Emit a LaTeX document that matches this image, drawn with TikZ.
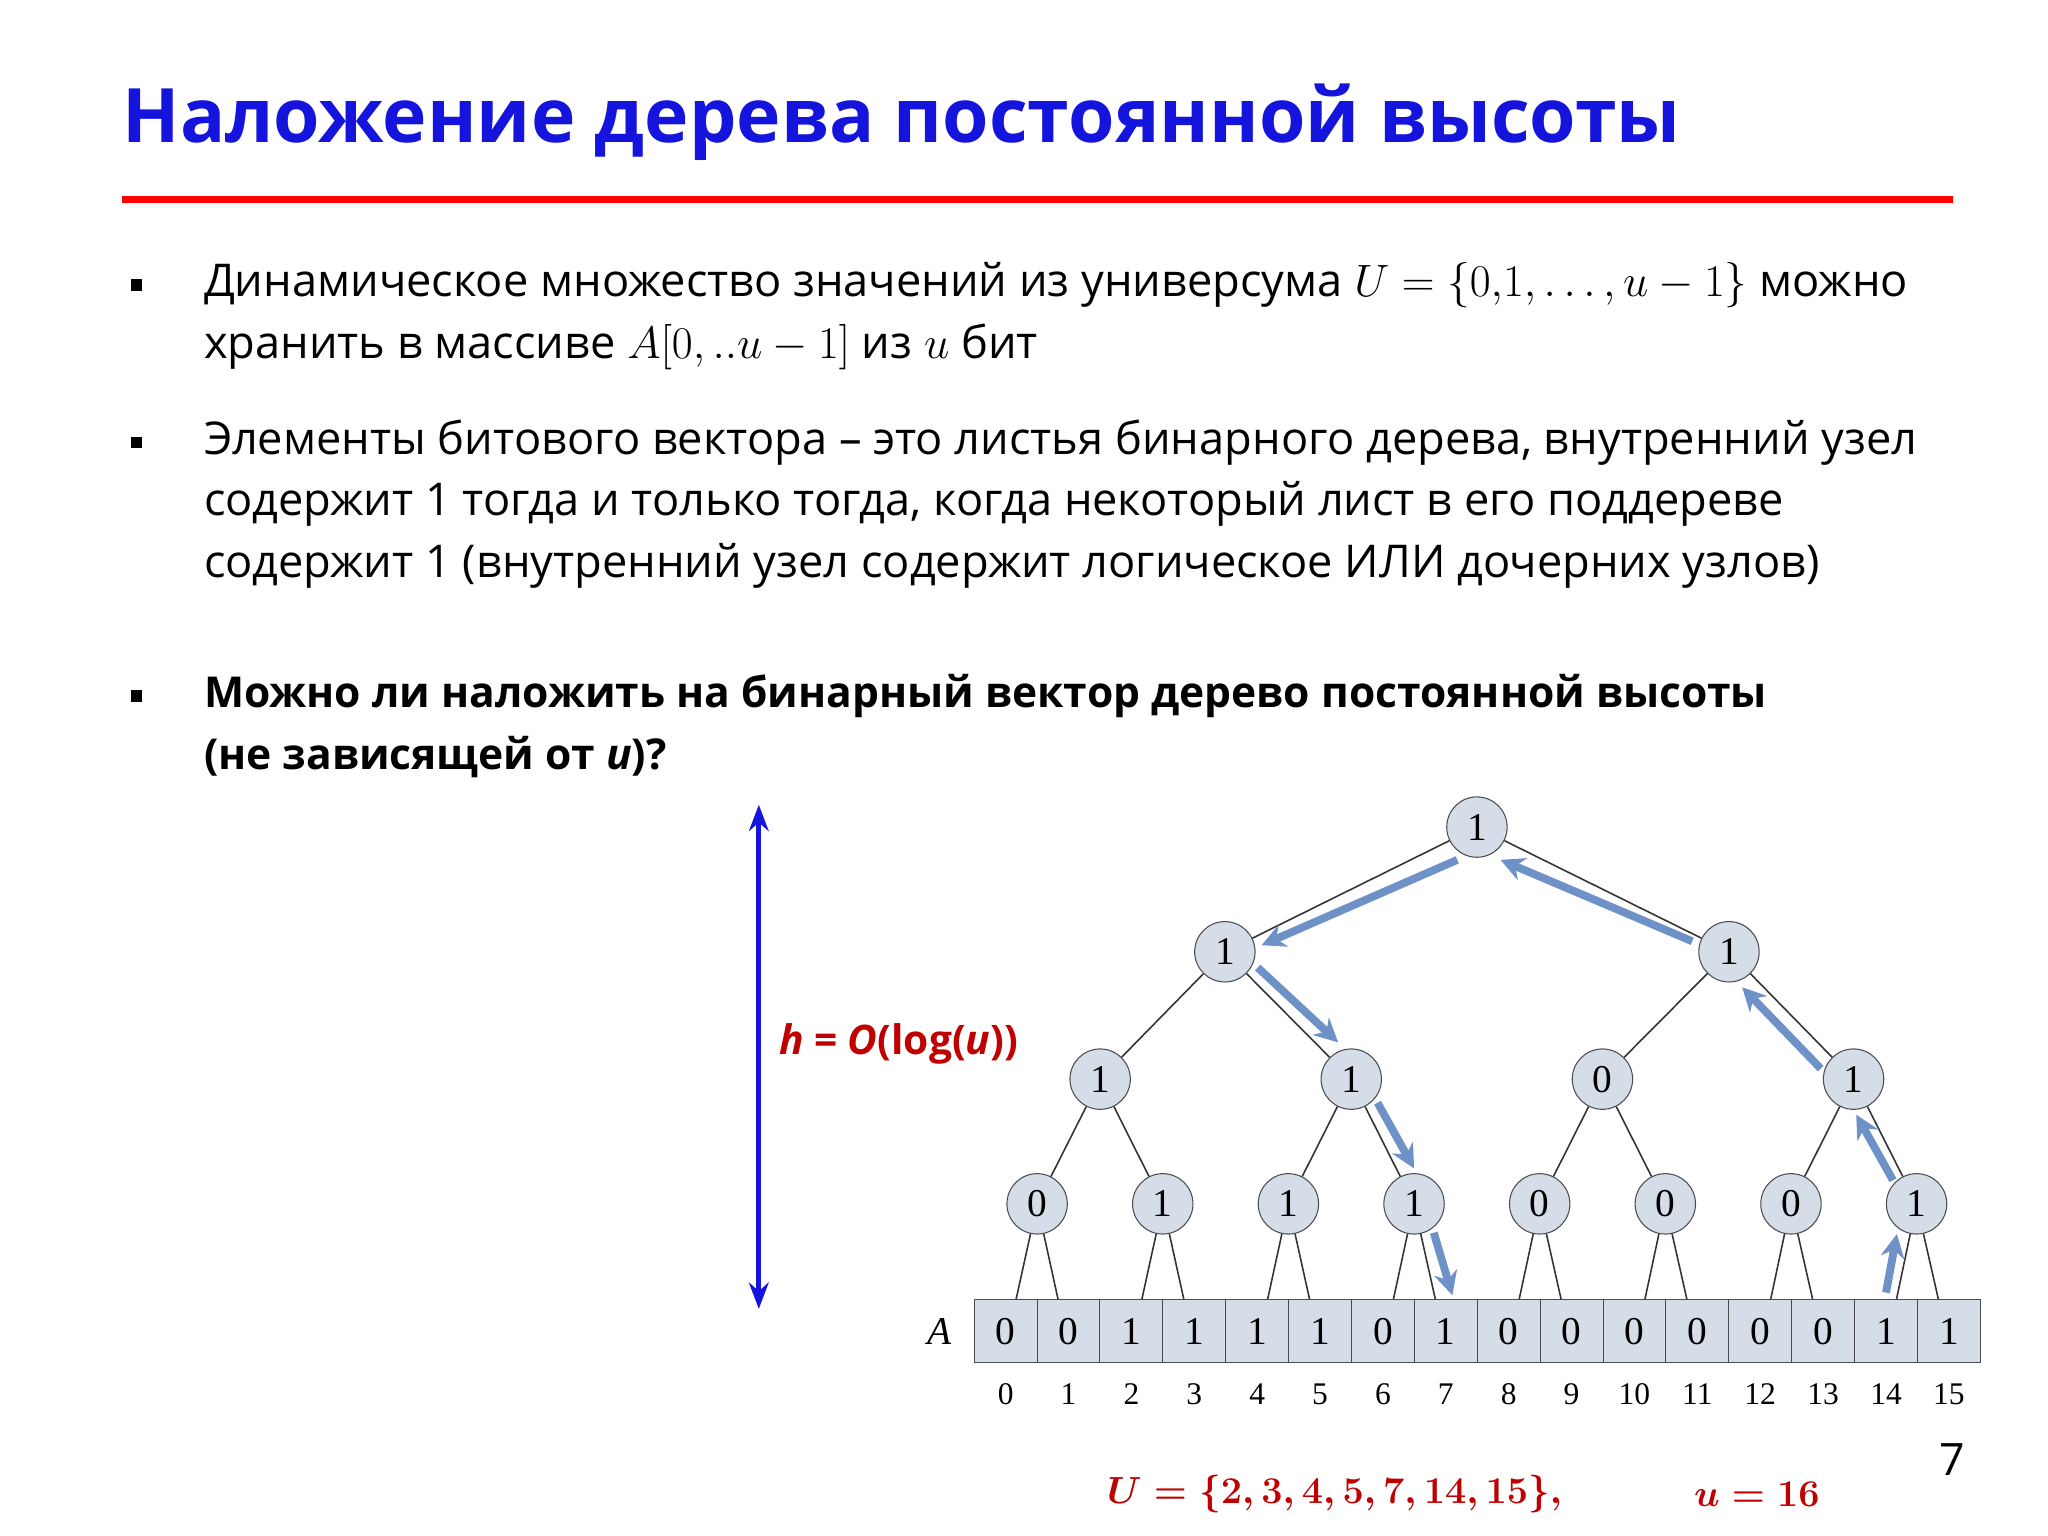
\documentclass[tikz,border=0pt]{standalone}
\usepackage{fontspec}
\usepackage{amsmath}
\setmainfont{Open Sans}
\newfontfamily\treefont{Liberation Serif}
\usetikzlibrary{arrows.meta,calc}
\definecolor{ttl}{RGB}{20,20,220}
\definecolor{dred}{RGB}{192,0,0}
\definecolor{nfill}{RGB}{213,221,233}
\definecolor{arr}{RGB}{110,145,200}
\tikzset{
 tn/.style={circle,draw=black!70,fill=nfill,minimum size=23pt,inner sep=0pt,font=\treefont\fontsize{15}{15}\selectfont},
 cell/.style={draw=black!70,fill=nfill,minimum width=23.95pt,minimum height=24pt,inner sep=0pt,font=\treefont\fontsize{15}{15}\selectfont},
 idx/.style={font=\treefont\fontsize{12}{12}\selectfont},
 edge/.style={black!80,line width=0.6pt},
 hint/.style={arr,line width=3pt,-{Stealth[length=9pt,width=9pt]}},
 txt/.style={anchor=west,inner sep=0pt,font=\fontsize{17.2}{17}\selectfont},
 btxt/.style={anchor=west,inner sep=0pt,font=\bfseries\fontsize{16.2}{17}\selectfont}
}
\begin{document}
\begin{tikzpicture}[x=0.5pt,y=-0.5pt]
\useasboundingbox (0,0) rectangle (1560,1170);
\node[anchor=west,inner sep=0pt,text=ttl,font=\bfseries\fontsize{28.6}{30}\selectfont] (title) at (93,93) {Наложение дерева постоянной высоты};
\draw[red,line width=2.5pt] (93,152) -- (1488,152);
\foreach \y in {217,337,530} \node[fill=black,minimum size=4.5pt,inner sep=0pt] at (104,\y) {};
\node[txt] (l1) at (155,217) {Динамическое множество значений из универсума $U=\{0{,}1,\ldots,u-1\}$ можно};
\node[txt] (l2) at (155,264) {хранить в массиве $A[0,..u-1]$ из $u$ бит};
\node[txt] (l3) at (155,337) {Элементы битового вектора – это листья бинарного дерева, внутренний узел};
\node[txt] (l4) at (155,384) {содержит 1 тогда и только тогда, когда некоторый лист в его поддереве};
\node[txt] (l5) at (155,431) {содержит 1 (внутренний узел содержит логическое ИЛИ дочерних узлов)};
\node[btxt] (l6) at (155,530) {Можно ли наложить на бинарный вектор дерево постоянной высоты};
\node[btxt] (l7) at (155,577) {(не зависящей от \textit{u})?};
% height arrow
\coordinate (ht) at (578,613); \coordinate (hb) at (578,997);
\draw[ttl,line width=2pt,{Stealth[length=10pt]}-{Stealth[length=10pt]}] (ht) -- (hb);
\node[anchor=west,inner sep=0pt,text=dred,font=\bfseries\fontsize{15.5}{17}\selectfont] (h) at (593,795) {\textit{h} = \textit{O}(log(\textit{u}))};
% leaves
\foreach \v [count=\i from 0] in {0,0,1,1,1,1,0,1,0,0,0,0,0,0,1,1}{
 \node[cell] (c\i) at ({766+47.9*\i},1014) {\v};
 \node[idx] (i\i) at ({766+47.9*\i},1062) {\i};
}
\node[font=\treefont\itshape\fontsize{15}{15}\selectfont] (A) at (716,1014) {A};
% tree
\node[tn] (r) at (1125,630) {1};
\node[tn] (a0) at (933,725) {1}; \node[tn] (a1) at (1317,725) {1};
\foreach \v [count=\i from 0] in {1,1,0,1} \node[tn] (b\i) at ({838+191.3*\i},822) {\v};
\foreach \v [count=\i from 0] in {0,1,1,1,0,0,0,1} \node[tn] (d\i) at ({790+95.7*\i},917) {\v};
\draw[edge] (r) -- (a0); \draw[edge] (r) -- (a1);
\draw[edge] (a0) -- (b0); \draw[edge] (a0) -- (b1);
\draw[edge] (a1) -- (b2); \draw[edge] (a1) -- (b3);
\foreach \i [evaluate=\i as \j using int(2*\i), evaluate=\i as \k using int(2*\i+1), evaluate=\i as \p using int(\i/2)] in {0,...,7}{
 \draw[edge] (b\p) -- (d\i);
 \draw[edge] (d\i) -- ($(c\j.north)+(8,0)$);
 \draw[edge] (d\i) -- ($(c\k.north)+(-8,0)$);
}
% hint arrows
\draw[hint] ($(r)+(-15,25)$) -- ($(a0)+(28,-5)$);
\draw[hint] ($(a1)+(-28,-8)$) -- ($(r)+(18,25)$);
\draw[hint] ($(a0)+(25,12)$) -- ($(b1)+(-10,-28)$);
\draw[hint] ($(b1)+(20,18)$) -- ($(d3)+(0,-27)$);
\draw[hint] ($(d3)+(15,22)$) -- ($(c7.north)+(5,-3)$);
\draw[hint] ($(c14.north)+(0,-5)$) -- ($(d7)+(-15,23)$);
\draw[hint] ($(d7)+(-18,-18)$) -- ($(b3)+(2,27)$);
\draw[hint] ($(b3)+(-25,-8)$) -- ($(a1)+(10,27)$);
\node[anchor=west,inner sep=0pt,text=dred,font=\fontsize{15.5}{17}\selectfont] (f1) at (843,1138) {$\boldsymbol{U=\{2,3,4,5,7,14,15\},}$};
\node[anchor=west,inner sep=0pt,text=dred,font=\fontsize{15.5}{17}\selectfont] (f2) at (1290,1138) {$\boldsymbol{u=16}$};
\node[font=\fontsize{17}{17}\selectfont] (pg) at (1487,1112) {7};
\end{tikzpicture}
\end{document}
